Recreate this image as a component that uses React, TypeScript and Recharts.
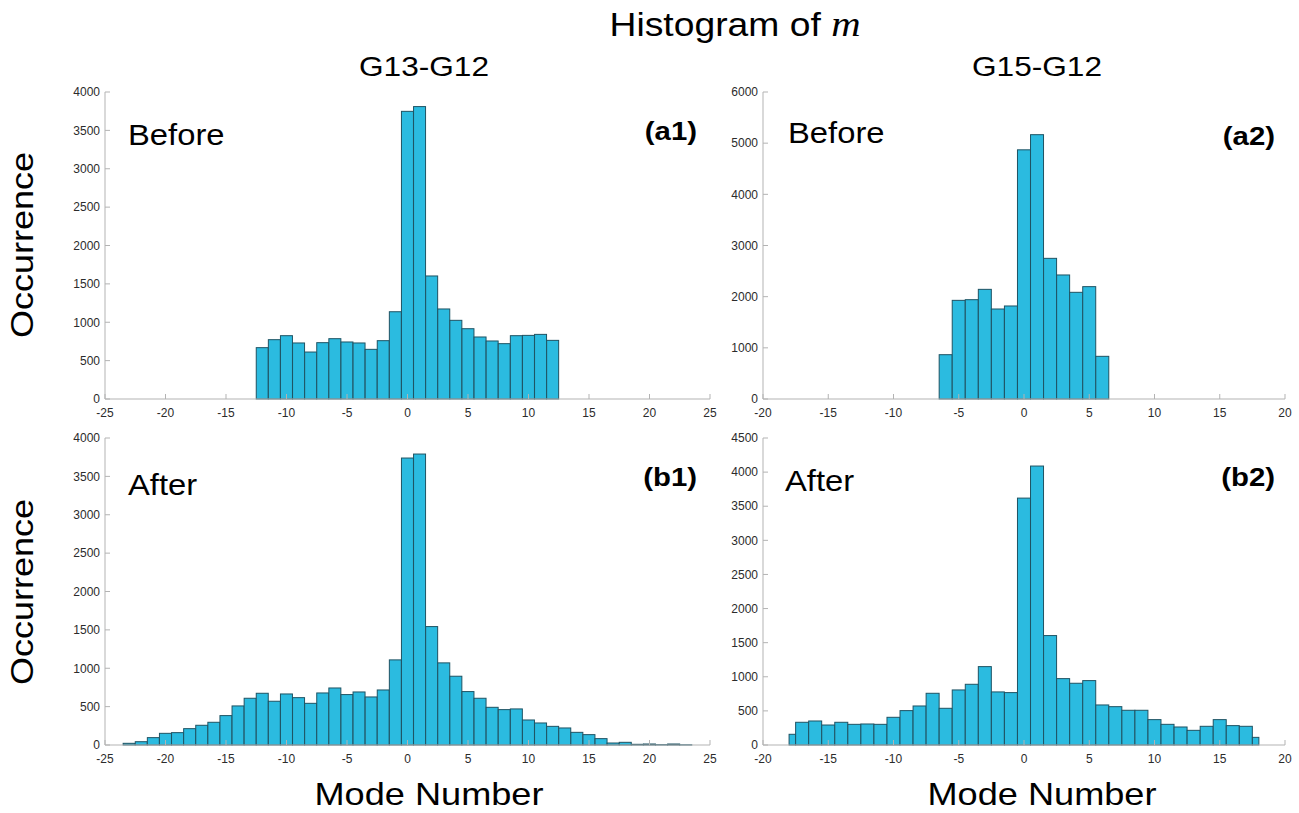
import { BarChart, Bar, XAxis, YAxis } from "recharts";

const FILL = "#2bbbe0";
const EDGE = "#1f5363";
const BOX = "#b3b3b3";
const TICK_TEXT = "#2b2b2b";
const SANS = "'Liberation Sans', Arial, sans-serif";

// G13-G12, before
const binsA1 = [-12, -11, -10, -9, -8, -7, -6, -5, -4, -3, -2, -1, 0, 1, 2, 3, 4, 5, 6, 7, 8, 9, 10, 11, 12];
const countsA1 = [669, 773, 825, 730, 612, 734, 786, 743, 730, 647, 760, 1137, 3748, 3810, 1603, 1173, 1025, 916, 808, 756, 721, 825, 829, 842, 764];

// G15-G12, before
const binsA2 = [-6, -5, -4, -3, -2, -1, 0, 1, 2, 3, 4, 5, 6];
const countsA2 = [866, 1928, 1941, 2143, 1759, 1818, 4870, 5166, 2749, 2424, 2085, 2196, 834];

// G13-G12, after
const binsB1 = [-23, -22, -21, -20, -19, -18, -17, -16, -15, -14, -13, -12, -11, -10, -9, -8, -7, -6, -5, -4, -3, -2, -1, 0, 1, 2, 3, 4, 5, 6, 7, 8, 9, 10, 11, 12, 13, 14, 15, 16, 17, 18, 19, 20, 21, 22, 23];
const countsB1 = [22, 43, 96, 152, 161, 213, 257, 296, 383, 509, 609, 674, 570, 665, 617, 543, 678, 743, 657, 691, 626, 717, 1109, 3739, 3791, 1543, 1070, 896, 696, 609, 491, 461, 470, 326, 287, 243, 222, 165, 135, 83, 26, 35, 9, 13, 4, 13, 2];

// G15-G12, after (bins clipped at the limits)
const binsB2 = [-18, -17, -16, -15, -14, -13, -12, -11, -10, -9, -8, -7, -6, -5, -4, -3, -2, -1, 0, 1, 2, 3, 4, 5, 6, 7, 8, 9, 10, 11, 12, 13, 14, 15, 16, 17, 18];
const countsB2 = [157, 333, 352, 293, 333, 303, 308, 303, 406, 504, 572, 758, 538, 807, 890, 1149, 778, 768, 3619, 4089, 1604, 973, 905, 944, 587, 562, 509, 509, 372, 303, 264, 215, 274, 372, 284, 274, 112];
const limitsB2 = [-18, 18];

const ticksX25 = [-25, -20, -15, -10, -5, 0, 5, 10, 15, 20, 25];
const ticksX20 = [-20, -15, -10, -5, 0, 5, 10, 15, 20];
const ticksY4000 = [0, 500, 1000, 1500, 2000, 2500, 3000, 3500, 4000];
const ticksY6000 = [0, 1000, 2000, 3000, 4000, 5000, 6000];
const ticksY4500 = [0, 500, 1000, 1500, 2000, 2500, 3000, 3500, 4000, 4500];

const toBins = (bins: number[], counts: number[], limits?: number[]) =>
  bins.map((m, i) => {
    const lo = limits ? Math.max(m - 0.5, limits[0]) - m : -0.5;
    const hi = limits ? Math.min(m + 0.5, limits[1]) - m : 0.5;
    return { m, count: counts[i], lo, hi };
  });

const HistBar = (props: any) => {
  const { x, y, width, height, payload } = props;
  if (!height || height <= 0) return null;
  const cx = x + width / 2;
  const x0 = cx + payload.lo * width;
  const x1 = cx + payload.hi * width;
  return (
    <rect x={x0} y={y} width={x1 - x0} height={height} fill={FILL} stroke={EDGE} strokeWidth={1} />
  );
};

type PanelProps = {
  data: { m: number; count: number; lo: number; hi: number }[];
  xTicks: number[];
  yTicks: number[];
  left: number;
  top: number;
  plotW: number;
  plotH: number;
};

const Panel = ({ data, xTicks, yTicks, left, top, plotW, plotH }: PanelProps) => {
  const padL = 50;
  const padT = 10;
  const padR = 10;
  const padB = 30;
  const xDomain = [xTicks[0], xTicks[xTicks.length - 1]];
  const yDomain = [0, yTicks[yTicks.length - 1]];
  const tickStyle = { fill: TICK_TEXT, fontSize: 12, fontFamily: SANS };
  return (
    <div style={{ position: "absolute", left: left - padL, top: top - padT }}>
      <BarChart
        width={plotW + padL + padR}
        height={plotH + padT + padB}
        data={data}
        margin={{ top: padT, right: padR, bottom: 0, left: 0 }}
        barCategoryGap={0}
        barGap={0}
      >
        <XAxis
          xAxisId="bottom"
          dataKey="m"
          type="number"
          domain={xDomain}
          ticks={xTicks}
          interval={0}
          height={padB}
          tickSize={-5}
          tickMargin={14}
          stroke={BOX}
          tick={tickStyle}
          allowDataOverflow
        />
        <XAxis
          xAxisId="top"
          orientation="top"
          dataKey="m"
          type="number"
          domain={xDomain}
          ticks={xTicks}
          interval={0}
          height={0}
          tickSize={-5}
          stroke={BOX}
          tick={false}
          allowDataOverflow
        />
        <YAxis
          yAxisId="left"
          type="number"
          domain={yDomain}
          ticks={yTicks}
          interval={0}
          width={padL}
          tickSize={-5}
          tickMargin={10}
          stroke={BOX}
          tick={tickStyle}
        />
        <YAxis
          yAxisId="right"
          orientation="right"
          type="number"
          domain={yDomain}
          ticks={yTicks}
          interval={0}
          width={0}
          tickSize={-5}
          stroke={BOX}
          tick={false}
        />
        <Bar
          xAxisId="bottom"
          yAxisId="left"
          dataKey="count"
          shape={HistBar}
          isAnimationActive={false}
        />
      </BarChart>
    </div>
  );
};

type LabelProps = {
  x: number;
  y: number;
  size: number;
  anchor?: "start" | "middle" | "end";
  bold?: boolean;
  rotate?: number;
  sx?: number;
  children: any;
};

const Label = ({ x, y, size, anchor = "start", bold = false, rotate = 0, sx = 1.13, children }: LabelProps) => (
  <text
    transform={`translate(${x} ${y}) rotate(${rotate}) scale(${sx} 1)`}
    textAnchor={anchor}
    fontSize={size}
    fontWeight={bold ? 700 : 400}
    fill="#000"
  >
    {children}
  </text>
);

export default function App() {
  return (
    <div
      style={{
        position: "absolute",
        left: 0,
        top: 0,
        width: 1299,
        height: 813,
        background: "#fff",
        fontFamily: SANS,
      }}
    >
      <Panel data={toBins(binsA1, countsA1)} xTicks={ticksX25} yTicks={ticksY4000} left={105} top={92} plotW={605} plotH={307} />
      <Panel data={toBins(binsA2, countsA2)} xTicks={ticksX20} yTicks={ticksY6000} left={763} top={92} plotW={522} plotH={307} />
      <Panel data={toBins(binsB1, countsB1)} xTicks={ticksX25} yTicks={ticksY4000} left={105} top={438} plotW={605} plotH={307} />
      <Panel data={toBins(binsB2, countsB2, limitsB2)} xTicks={ticksX20} yTicks={ticksY4500} left={763} top={438} plotW={522} plotH={307} />

      <svg
        width={1299}
        height={813}
        style={{ position: "absolute", left: 0, top: 0, pointerEvents: "none", fontFamily: SANS }}
      >
        <Label x={735} y={36} size={33} anchor="middle">
          Histogram of <tspan fontFamily="'Liberation Serif', serif" fontStyle="italic" fontSize={36}>m</tspan>
        </Label>
        <Label x={424} y={76} size={28} anchor="middle">G13-G12</Label>
        <Label x={1037} y={76} size={28} anchor="middle">G15-G12</Label>

        <Label x={33} y={245} size={31} anchor="middle" rotate={-90} sx={1.16}>Occurrence</Label>
        <Label x={33} y={592} size={31} anchor="middle" rotate={-90} sx={1.16}>Occurrence</Label>

        <Label x={429} y={805} size={32} anchor="middle">Mode Number</Label>
        <Label x={1042} y={805} size={32} anchor="middle">Mode Number</Label>

        <Label x={128} y={145} size={29}>Before</Label>
        <Label x={788} y={143} size={29}>Before</Label>
        <Label x={128} y={495} size={29}>After</Label>
        <Label x={785} y={491} size={29}>After</Label>

        <Label x={697} y={140} size={26} anchor="end" bold>(a1)</Label>
        <Label x={1275} y={145} size={26} anchor="end" bold>(a2)</Label>
        <Label x={697} y={486} size={26} anchor="end" bold>(b1)</Label>
        <Label x={1275} y={486} size={26} anchor="end" bold>(b2)</Label>
      </svg>
    </div>
  );
}
